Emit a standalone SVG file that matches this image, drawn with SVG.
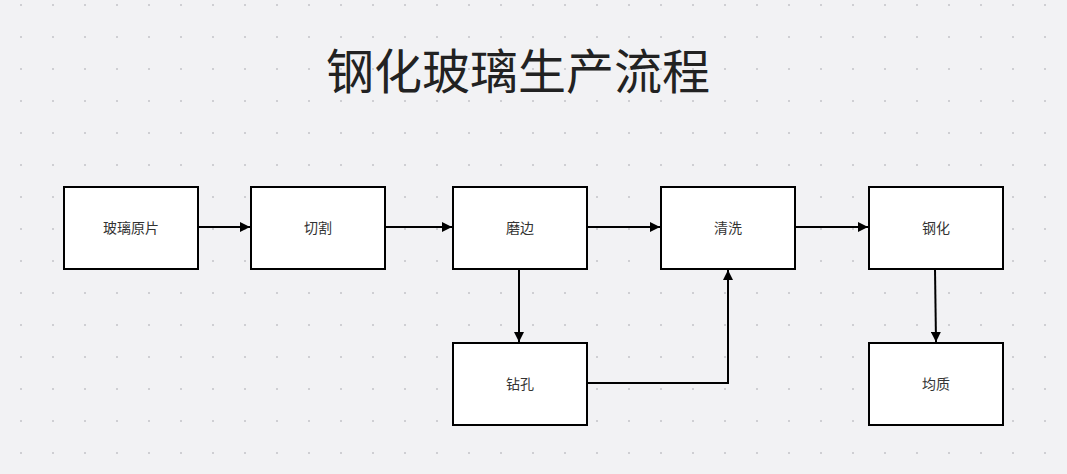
<svg xmlns="http://www.w3.org/2000/svg" width="1067" height="474" viewBox="0 0 1067 474">
<defs>
<pattern id="dots" x="0" y="0" width="32" height="32" patternUnits="userSpaceOnUse">
<rect x="20" y="4" width="2" height="2" fill="#cfcfd3"/>
</pattern>
<marker id="ah" viewBox="0 0 10 10" refX="10" refY="5" markerWidth="10" markerHeight="10" markerUnits="userSpaceOnUse" orient="auto">
<path d="M0,0 L10,5 L0,10 Z" fill="#000"/>
</marker>
<style>
.box{fill:#fff;stroke:#000;stroke-width:2}
.lbl{font-family:"Noto Sans CJK SC","Noto Sans",sans-serif;font-size:14px;fill:#333;text-anchor:middle;dominant-baseline:central}
.edge{fill:none;stroke:#000;stroke-width:2;marker-end:url(#ah)}
</style>
</defs>
<rect width="1067" height="474" fill="#f2f2f4"/>
<rect width="1067" height="474" fill="url(#dots)"/>
<text x="518" y="89" font-family="Noto Sans CJK SC, sans-serif" font-size="48" fill="#222" text-anchor="middle">钢化玻璃生产流程</text>
<g id="connectors">
<path class="edge" d="M198,227 L250,227"/>
<path class="edge" d="M385,227 L452,227"/>
<path class="edge" d="M587,227 L660,227"/>
<path class="edge" d="M795,227 L868,227"/>
<path class="edge" d="M519,269 L519,342"/>
<path class="edge" d="M587,383 L728,383 L728,270"/>
<path class="edge" d="M935,269 L936,342"/>
</g>
<g id="n1"><rect class="box" x="64" y="187" width="134" height="82"/><text class="lbl" x="131" y="227">玻璃原片</text></g>
<g id="n2"><rect class="box" x="251" y="187" width="134" height="82"/><text class="lbl" x="318" y="227">切割</text></g>
<g id="n3"><rect class="box" x="453" y="187" width="134" height="82"/><text class="lbl" x="520" y="227">磨边</text></g>
<g id="n4"><rect class="box" x="661" y="187" width="134" height="82"/><text class="lbl" x="728" y="227">清洗</text></g>
<g id="n5"><rect class="box" x="869" y="187" width="134" height="82"/><text class="lbl" x="936" y="227">钢化</text></g>
<g id="n6"><rect class="box" x="453" y="343" width="134" height="82"/><text class="lbl" x="520" y="383">钻孔</text></g>
<g id="n7"><rect class="box" x="869" y="343" width="134" height="82"/><text class="lbl" x="936" y="383">均质</text></g>
</svg>
